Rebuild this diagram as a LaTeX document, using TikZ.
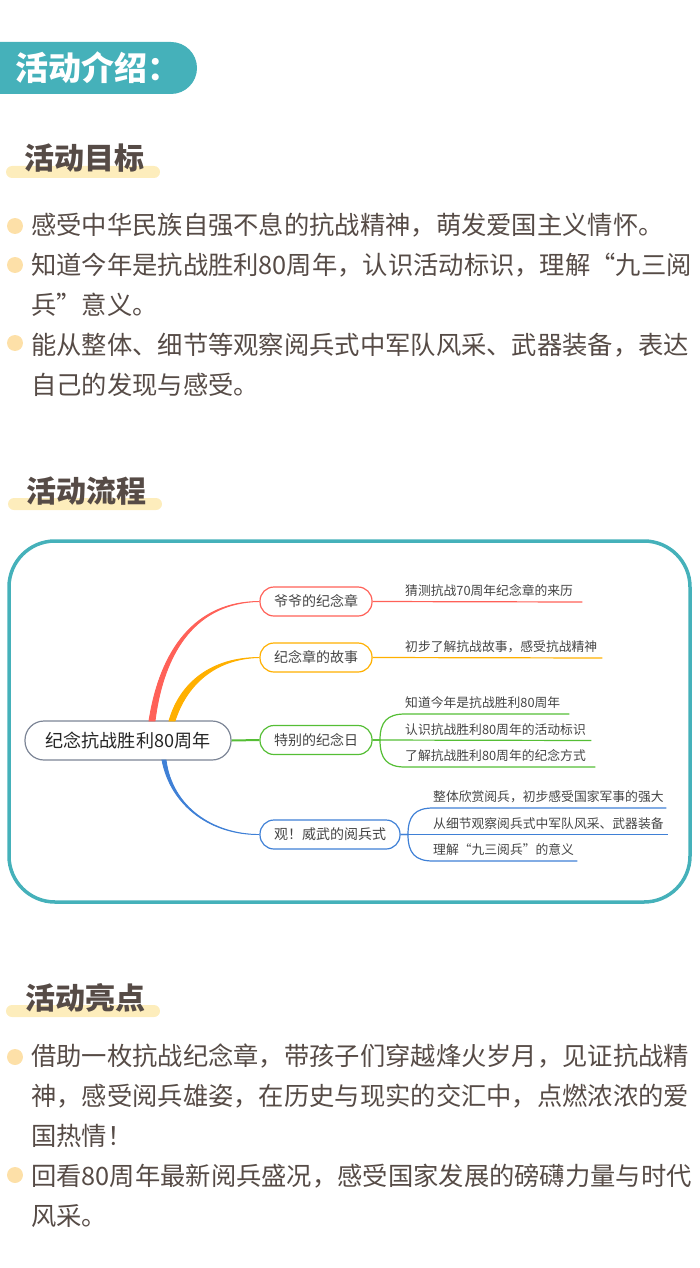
\documentclass[tikz,border=0pt]{standalone}
\usepackage{fontspec}
\setmainfont{Noto Sans CJK SC}
\newcommand{\zhcomma}{\char"FF0C\relax}
\newcommand{\zhbang}{\char"FF01\relax}
\newcommand{\zhcolon}{\char"FF1A\relax}
\definecolor{tealband}{HTML}{45B1BA}
\definecolor{barcream}{HTML}{FDEDBC}
\definecolor{dotcream}{HTML}{FDE0A8}
\definecolor{bodybrown}{HTML}{564B46}
\definecolor{mapgrey}{HTML}{444444}
\definecolor{rootgrey}{HTML}{7C8596}
\definecolor{mapred}{HTML}{FF6158}
\definecolor{maporange}{HTML}{FFB000}
\definecolor{mapgreen}{HTML}{55BE35}
\definecolor{mapblue}{HTML}{3F80D6}
\tikzset{
    heading/.style={anchor=west,inner sep=0,text=bodybrown,font=\fontsize{30}{36}\selectfont\bfseries,text height=24pt,text depth=4pt},
    bodyline/.style={anchor=west,inner sep=0,text=bodybrown,font=\fontsize{25.3}{30}\selectfont,text height=21pt,text depth=4pt},
    dot/.style={circle,fill=dotcream,inner sep=0,minimum size=16pt},
    bar/.style={fill=barcream,rounded corners=6pt},
    rootnode/.style={draw=rootgrey,line width=1.2pt,fill=white,rounded corners=19pt,minimum width=206pt,minimum height=39pt,inner sep=0,text=black!85,font=\fontsize{18.1}{22}\selectfont},
    branch/.style={draw=#1,line width=1.2pt,fill=white,rounded corners=14pt,minimum height=29pt,inner sep=0,text=mapgrey,font=\fontsize{14}{17}\selectfont},
    leaf/.style={anchor=south west,inner xsep=0,inner ysep=5pt,align=left,text=mapgrey,font=\fontsize{12.8}{15}\selectfont},
}
\begin{document}
\begin{tikzpicture}[x=1pt,y=-1pt]
    \useasboundingbox (0,0) rectangle (700,1268);
    % Title band
    \fill[tealband] (0,94) -- (0,42) [rounded corners=26pt] -- (197,42) -- (197,94) [sharp corners] -- cycle;
    \node[anchor=west,inner sep=0,text=white,font=\fontsize{33}{40}\selectfont\bfseries] (title) at (15,68) {活动介绍\zhcolon};

    % First section
    \fill[bar] (6,166) rectangle (160,178);
    \node[heading] (goalhead) at (24,160) {活动目标};
    \node[dot] (dot1) at (15,226) {};
    \node[dot] (dot2) at (15,265) {};
    \node[dot] (dot3) at (15,343) {};
    \node[bodyline] (goal1) at (31,226) {感受中华民族自强不息的抗战精神\zhcomma 萌发爱国主义情怀。};
    \node[bodyline] (goal2) at (31,266) {知道今年是抗战胜利80周年\zhcomma 认识活动标识\zhcomma 理解“九三阅};
    \node[bodyline] (goal3) at (31,306) {兵”意义。};
    \node[bodyline] (goal4) at (31,346) {能从整体、细节等观察阅兵式中军队风采、武器装备\zhcomma 表达};
    \node[bodyline] (goal5) at (31,386) {自己的发现与感受。};

    % Second section
    \fill[bar] (8,498) rectangle (162,510);
    \node[heading] (flowhead) at (26,492) {活动流程};
    \draw[tealband,line width=3.5pt,rounded corners=46pt] (9,541) rectangle (690,902);

    % Map nodes
    \node[rootnode] (root) at (128,740.5) {纪念抗战胜利80周年};
    \node[branch=mapred,minimum width=112pt] (medal) at (316,601.5) {爷爷的纪念章};
    \node[branch=maporange,minimum width=112pt] (story) at (316,657.5) {纪念章的故事};
    \node[branch=mapgreen,minimum width=112pt] (day) at (316,740) {特别的纪念日};
    \node[branch=mapblue,minimum width=140pt] (parade) at (330,834.5) {观\zhbang 威武的阅兵式};

    % Thick branches out of the root
    \coordinate (reda) at (149,721);
    \coordinate (redb) at (155,721);
    \coordinate (orangea) at (169,721);
    \coordinate (orangeb) at (175,721);
    \coordinate (bluea) at (162,760);
    \coordinate (blueb) at (166,760);
    \filldraw[mapred,line width=0.9pt] (reda) .. controls (160,650) and (195,601.5) .. (medal.west) .. controls (197,602.5) and (164,650) .. (redb) -- cycle;
    \filldraw[maporange,line width=0.9pt] (orangea) .. controls (180,682) and (212,657.5) .. (story.west) .. controls (214,658.5) and (186,686) .. (orangeb) -- cycle;
    \filldraw[mapblue,line width=0.9pt] (bluea) .. controls (171,807) and (212,835) .. (parade.west) .. controls (213,834.5) and (172,807) .. (blueb) -- cycle;
    \draw[mapgreen,line width=2pt] (root.east) -- (day.west);

    % Leaves
    \node[leaf,text width=177pt] (medal1) at (405,602) {猜测抗战70周年纪念章的来历};
    \node[leaf,text width=197pt] (story1) at (405,658) {初步了解抗战故事\zhcomma 感受抗战精神};
    \node[leaf,text width=164pt] (day1) at (405,714) {知道今年是抗战胜利80周年};
    \node[leaf,text width=186pt] (day2) at (405,740.5) {认识抗战胜利80周年的活动标识};
    \node[leaf,text width=190pt] (day3) at (405,767) {了解抗战胜利80周年的纪念方式};
    \node[leaf,text width=233pt] (parade1) at (433,808) {整体欣赏阅兵\zhcomma 初步感受国家军事的强大};
    \node[leaf,text width=235pt] (parade2) at (433,834.5) {从细节观察阅兵式中军队风采、武器装备};
    \node[leaf,text width=144pt] (parade3) at (433,861) {理解“九三阅兵”的意义};

    % Leaf connectors
    \draw[mapred,line width=1.2pt] (medal.east) -- (medal1.south east);
    \draw[maporange,line width=1.2pt] (story.east) -- (story1.south east);
    \draw[mapgreen,line width=1.2pt] (day.east) -- (day2.south east);
    \draw[mapgreen,line width=1.2pt] (day.east) -- (380,740) .. controls (380,722) and (387,714) .. (day1.south west) -- (day1.south east);
    \draw[mapgreen,line width=1.2pt] (day.east) -- (380,740) .. controls (380,759) and (387,767) .. (day3.south west) -- (day3.south east);
    \draw[mapblue,line width=1.2pt] (parade.east) -- (parade2.south east);
    \draw[mapblue,line width=1.2pt] (parade.east) -- (408,834.5) .. controls (408,816) and (415,808) .. (parade1.south west) -- (parade1.south east);
    \draw[mapblue,line width=1.2pt] (parade.east) -- (408,834.5) .. controls (408,853) and (415,861) .. (parade3.south west) -- (parade3.south east);

    % Third section
    \fill[bar] (6,1005) rectangle (160,1017);
    \node[heading] (starhead) at (25,999) {活动亮点};
    \node[dot] (dot4) at (15,1057) {};
    \node[dot] (dot5) at (15,1175) {};
    \node[bodyline] (star1) at (31,1057) {借助一枚抗战纪念章\zhcomma 带孩子们穿越烽火岁月\zhcomma 见证抗战精};
    \node[bodyline] (star2) at (31,1097) {神\zhcomma 感受阅兵雄姿\zhcomma 在历史与现实的交汇中\zhcomma 点燃浓浓的爱};
    \node[bodyline] (star3) at (31,1137) {国热情\zhbang};
    \node[bodyline] (star4) at (31,1177) {回看80周年最新阅兵盛况\zhcomma 感受国家发展的磅礴力量与时代};
    \node[bodyline] (star5) at (31,1217) {风采。};
\end{tikzpicture}
\end{document}
